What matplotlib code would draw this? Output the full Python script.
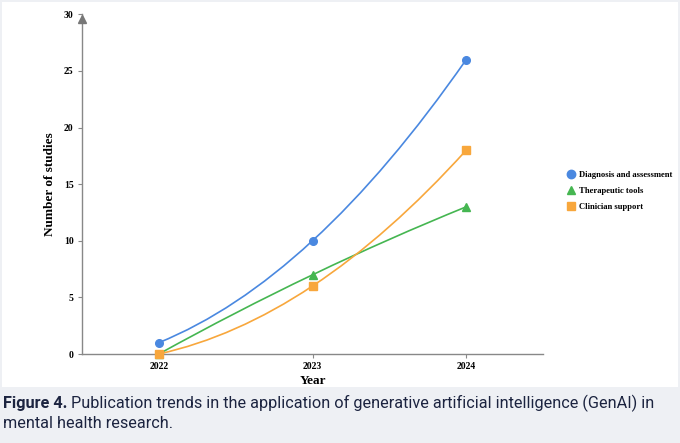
import matplotlib.pyplot as plt
from matplotlib.path import Path
from matplotlib.patches import PathPatch, Rectangle

years = [2022, 2023, 2024]
diagnosis = [1, 10, 26]
therapeutic = [0, 7, 13]
clinician = [0, 6, 18]
series_names = ["Diagnosis and assessment", "Therapeutic tools", "Clinician support"]
y_ticks = [0, 5, 10, 15, 20, 25, 30]

colors = ["#4a88e0", "#45b651", "#f8a73c"]
markers = ["o", "^", "s"]
serif = ["Liberation Serif", "DejaVu Serif"]

fig = plt.figure(figsize=(6.8, 4.43), dpi=100)
fig.patch.set_facecolor("#eef0f4")
# white chart panel
fig.add_artist(Rectangle((2 / 680, 1 - 387 / 443), 676 / 680, 385 / 443,
                         transform=fig.transFigure, facecolor="white",
                         edgecolor="none", zorder=0))

ax = fig.add_axes([82 / 680, 89 / 443, 461 / 680, 339.6 / 443])
ax.set_facecolor("none")
ax.set_xlim(2021.5, 2024.5)
ax.set_ylim(0, 30)


def smooth_curve(xs, ys):
    # quadratic bezier through the three points (passes through middle at t=0.5)
    cx = 2 * xs[1] - (xs[0] + xs[2]) / 2
    cy = 2 * ys[1] - (ys[0] + ys[2]) / 2
    return Path([(xs[0], ys[0]), (cx, cy), (xs[2], ys[2])],
                [Path.MOVETO, Path.CURVE3, Path.CURVE3])


for vals, name, c, m in zip([diagnosis, therapeutic, clinician], series_names, colors, markers):
    ax.add_patch(PathPatch(smooth_curve(years, vals), facecolor="none",
                           edgecolor=c, lw=1.2, zorder=2))
    ax.plot(years, vals, linestyle="none", marker=m, markersize=5.5,
            color=c, label=name, zorder=3, clip_on=False)

for side in ["top", "right"]:
    ax.spines[side].set_visible(False)
for side in ["left", "bottom"]:
    ax.spines[side].set_color("#888888")
    ax.spines[side].set_linewidth(1.0)

# arrow head on y axis
ax.plot([2021.5], [29.55], marker="^", markersize=5.5, color="#777777",
        clip_on=False, zorder=4)

ax.set_xticks(years)
ax.set_xticklabels([str(y) for y in years])
ax.set_yticks(y_ticks)
ax.set_yticklabels([str(t) for t in y_ticks])
ax.tick_params(axis="both", direction="out", length=3, width=0.8,
               color="#888888", pad=3)
for lab in ax.get_xticklabels() + ax.get_yticklabels():
    lab.set_fontfamily(serif)
    lab.set_fontweight("bold")
    lab.set_fontsize(7)

ax.set_xlabel("Year", fontfamily=serif, fontweight="bold", fontsize=9.5, labelpad=3)
ax.set_ylabel("Number of studies", fontfamily=serif, fontweight="bold",
              fontsize=9.5, labelpad=6)

leg = ax.legend(loc="upper left", bbox_to_anchor=(1.043, 0.55), frameon=False,
                prop={"family": serif, "weight": "bold", "size": 6.2},
                handletextpad=0.5, labelspacing=0.95, handlelength=1.0,
                borderaxespad=0, markerscale=1.1)

# caption
cap_color = "#1c2440"
cap_font = ["Roboto", "DejaVu Sans"]
fig.canvas.draw()
r = fig.canvas.get_renderer()
t1 = fig.text(3 / 680, 1 - 408 / 443, "Figure 4.", fontfamily=cap_font,
              fontweight="bold", fontsize=11.7, color=cap_color, va="baseline")
bb = t1.get_window_extent(renderer=r)
fig.text(bb.x1 / 680 + 4 / 680, 1 - 408 / 443,
         "Publication trends in the application of generative artificial intelligence (GenAI) in",
         fontfamily=cap_font, fontsize=11.7, color=cap_color, va="baseline")
fig.text(3 / 680, 1 - 428 / 443, "mental health research.", fontfamily=cap_font,
         fontsize=11.7, color=cap_color, va="baseline")

fig.savefig("out.png", dpi=100, facecolor=fig.get_facecolor())
